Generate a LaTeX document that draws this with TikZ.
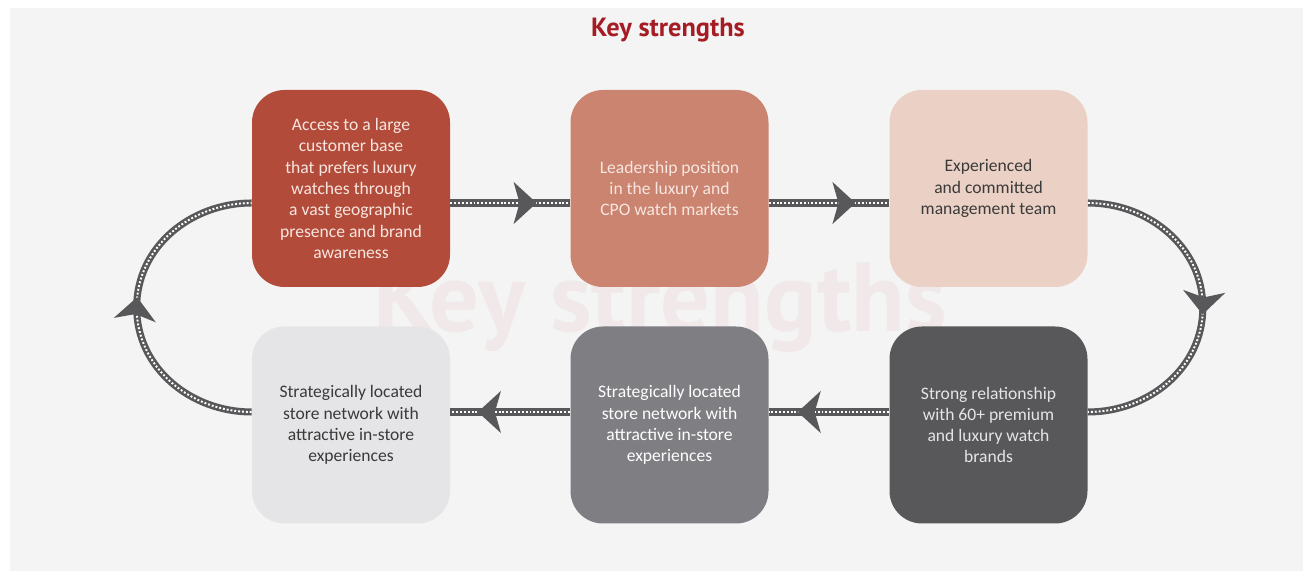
\documentclass[tikz,border=0pt]{standalone}
\usepackage{fontspec}
\setmainfont{Carlito}
\newfontfamily\titlefont{PT Sans}
\usepackage{tikz}
\usetikzlibrary{arrows.meta,calc,positioning,decorations.markings}
\definecolor{panelgray}{HTML}{F4F4F4}
\definecolor{titlered}{HTML}{A61C24}
\definecolor{roadgray}{HTML}{58585A}
\definecolor{rust}{HTML}{B34B3A}
\definecolor{salmon}{HTML}{CB8470}
\definecolor{blush}{HTML}{EBD1C5}
\definecolor{darkbox}{HTML}{58585A}
\definecolor{midbox}{HTML}{7F7F83}
\definecolor{lightbox}{HTML}{E5E5E7}
\definecolor{cream}{HTML}{F7E6DF}
\definecolor{inkgray}{HTML}{3A3A3A}

\tikzset{
  strength/.style={rounded corners=0.65cm, minimum width=3.96cm, minimum height=3.94cm,
    align=center, font=\fontsize{10}{12.1}\selectfont},
  road/.style={draw=white, line width=1.1pt, dash pattern=on 1.1pt off 1.1pt,
    preaction={draw=roadgray, line width=4pt, solid},
    postaction={decorate},
    decoration={markings, mark=at position #1 with
      {\arrow[roadgray, solid]{Stealth[length=0.46cm, width=0.84cm, inset=0.12cm]}}}},
}

\begin{document}
\begin{tikzpicture}
\useasboundingbox (0,0) rectangle (26.26,11.44);
\fill[panelgray] (0.2,0.02) rectangle (26.06,11.28);
\node[font=\titlefont\bfseries\fontsize{15}{15}\selectfont, text=titlered] (title) at (13.36,10.84) {Key strengths};

% watermark
\node[font=\titlefont\bfseries\fontsize{56}{56}\selectfont, text=titlered, opacity=0.05] (mark) at (13.2,5.3) {Key strengths};

%--- top row ---
\node[strength, fill=rust, text=cream] (base) at (7.02,7.67)
  {Access to a large\\customer base\\that prefers luxury\\watches through\\a vast geographic\\presence and brand\\awareness};
\node[strength, fill=salmon, text=cream] (lead) at (13.39,7.67)
  {Leadership position\\in the luxury and\\CPO watch markets};
\node[strength, fill=blush, text=inkgray] (team) at (19.77,7.67)
  {Experienced\\and committed\\management team};

%--- bottom row ---
\node[strength, fill=darkbox, text=lightbox] (brands) at (19.77,2.94)
  {Strong relationship\\with 60+ premium\\and luxury watch\\brands};
\node[strength, fill=midbox, text=white] (netmid) at (13.39,2.94)
  {Strategically located\\store network with\\attractive in-store\\experiences};
\node[strength, fill=lightbox, text=inkgray] (netleft) at (7.02,2.94)
  {Strategically located\\store network with\\attractive in-store\\experiences};

%--- road connectors ---
\draw[road=0.72] ([yshift=-0.29cm]base.east) -- ([yshift=-0.29cm]lead.west);
\draw[road=0.72] ([yshift=-0.29cm]lead.east) -- ([yshift=-0.29cm]team.west);
\draw[road=0.52] ([yshift=-0.29cm]team.east) to[out=0,in=90] ++(2.3,-2.09)
  to[out=-90,in=0] ([yshift=0.26cm]brands.east);
\draw[road=0.76] ([yshift=0.26cm]brands.west) -- ([yshift=0.26cm]netmid.east);
\draw[road=0.77] ([yshift=0.26cm]netmid.west) -- ([yshift=0.26cm]netleft.east);
\draw[road=0.53] ([yshift=0.26cm]netleft.west) to[out=180,in=-90] ++(-2.3,2.09)
  to[out=90,in=180] ([yshift=-0.29cm]base.west);
\end{tikzpicture}
\end{document}
